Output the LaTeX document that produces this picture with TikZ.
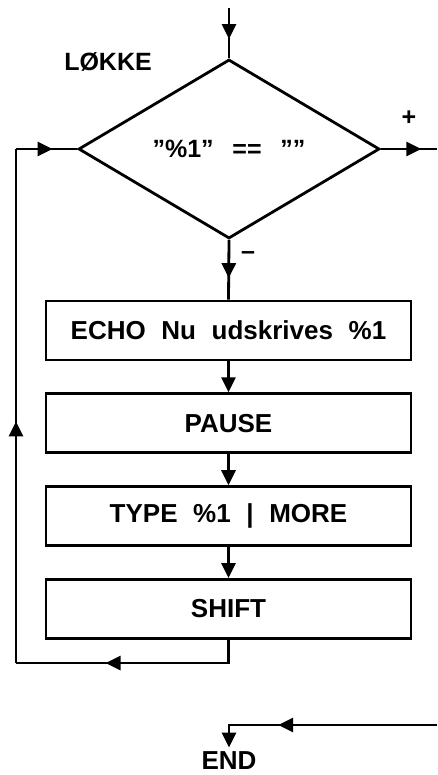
\documentclass[tikz,border=0pt]{standalone}
\usepackage{fontspec}
\setmainfont{Liberation Sans}
\usepackage{tikz}
\usetikzlibrary{arrows.meta,positioning,shapes.geometric,decorations.markings}

\newcommand{\widespace}[1]{\spaceskip=#1em\relax}

\begin{document}
\begin{tikzpicture}[
  x=1pt,y=-1pt,
  node distance=31pt,
  line width=2.8pt,
  box/.style={draw,minimum width=365pt,minimum height=59pt,inner sep=0pt,
    font={\bfseries\fontsize{26}{29}\selectfont\widespace{0.6}}},
  decision/.style={draw,diamond,minimum width=301pt,minimum height=179pt,inner sep=0pt,
    font={\bfseries\fontsize{25}{28}\selectfont\widespace{0.75}}},
  lbl/.style={font=\bfseries\fontsize{25}{28}\selectfont},
  arr/.style={-{Triangle[length=15pt,width=14pt]}},
  midarr/.style={postaction={decorate},decoration={markings,
    mark=at position #1 with {\arrow{Triangle[length=15pt,width=14pt]}}}}
]
\useasboundingbox (0,0) rectangle (437,775);

% loop test
\coordinate (start) at (229,8);
\node[decision] (test) at (229,149) {"\%1" == ""};
\node[lbl] (label) at (108,62) {LØKKE};
\node[lbl] (plus) at (409,118) {+};
\node[lbl] (minus) at (248,256) {–};

% loop body
\node[box] (echo) at (228.5,330.5) {ECHO Nu udskrives \%1};
\node[box,below=of echo] (pause) {PAUSE};
\node[box,below=of pause] (type) {TYPE \%1 | MORE};
\node[box,below=of type] (shift) {SHIFT};

\coordinate (exit) at (437,149);
\coordinate (back) at (16,663);
\coordinate (entry) at (16,149);
\coordinate (done) at (437,725);
\node[font=\bfseries\fontsize{26}{29}\selectfont,inner sep=0pt] (end) at (229,761) {END};

\draw[midarr=0.62] (start) -- (test.north);
\draw[midarr=0.64] (test.south) -- (echo.north);
\draw[arr] (echo) -- (pause);
\draw[arr] (pause) -- (type);
\draw[arr] (type) -- (shift);
\draw[midarr=0.62] (shift.south) |- (back);
\draw[midarr=0.47] (back) -- (entry);
\draw[midarr=0.6] (entry) -- (test.west);
\draw[midarr=0.72] (test.east) -- (exit);
\draw[arr,midarr=0.68,shorten >=3pt] (done) -| (end.north);
\end{tikzpicture}
\end{document}
